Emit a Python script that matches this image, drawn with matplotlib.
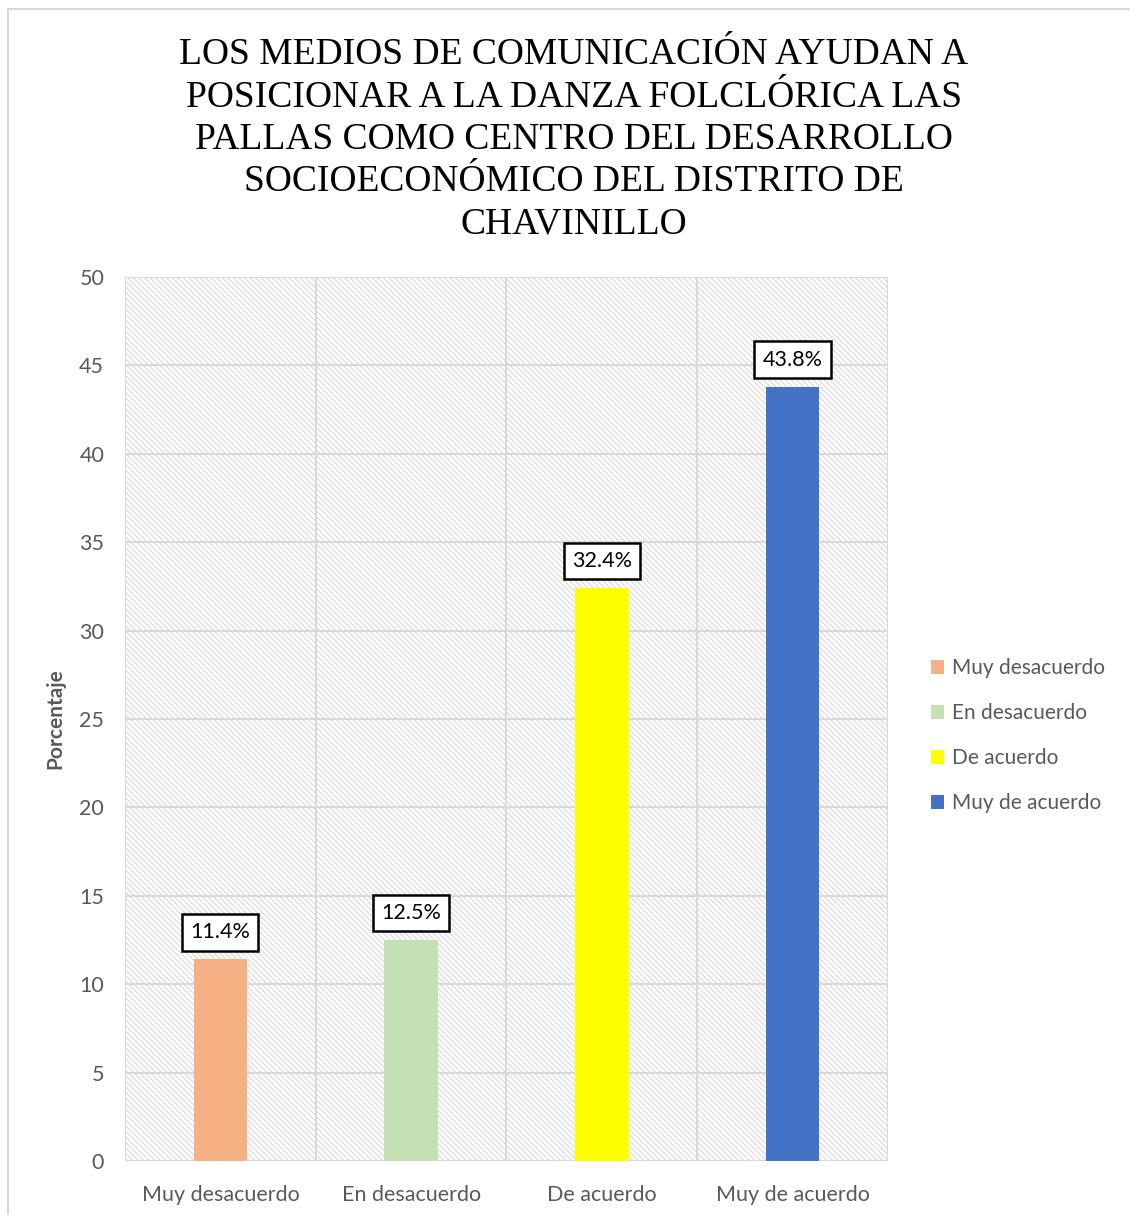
import matplotlib.pyplot as plt
from matplotlib.patches import Patch, Rectangle

categorias = ["Muy desacuerdo", "En desacuerdo", "De acuerdo", "Muy de acuerdo"]
porcentajes = [11.4, 12.5, 32.4, 43.8]
colores = ["#F4B183", "#C5E0B4", "#FFFF00", "#4472C4"]
yticks = [0, 5, 10, 15, 20, 25, 30, 35, 40, 45, 50]
titulo = ("LOS MEDIOS DE COMUNICACIÓN AYUDAN A\n"
          "POSICIONAR A LA DANZA FOLCLÓRICA LAS\n"
          "PALLAS COMO CENTRO DEL DESARROLLO\n"
          "SOCIOECONÓMICO DEL DISTRITO DE\n"
          "CHAVINILLO")

gris = "#595959"
grid_c = "#d9d9d9"
plt.rcParams["font.family"] = ["Lato", "DejaVu Sans"]
plt.rcParams["hatch.linewidth"] = 0.9
plt.rcParams["hatch.color"] = "#dcdcdc"

fig = plt.figure(figsize=(11.3, 12.15), dpi=100)
# marco exterior
fig.patches.append(Rectangle((8 / 1130, -0.01), 1.0, 1 - 9 / 1215 + 0.01,
                             transform=fig.transFigure, fill=False,
                             edgecolor=grid_c, linewidth=1.5))

ax = fig.add_axes([125 / 1130, 1 - 1161 / 1215, 763 / 1130, 884 / 1215])
x = list(range(len(categorias)))

# fondo rayado
ax.add_patch(Rectangle((-0.5, 0), 4, 50, facecolor="white", edgecolor="#dcdcdc",
                       hatch="\\\\\\\\\\\\", linewidth=0, zorder=0))

for yv in yticks:
    ax.axhline(yv, color=grid_c, linewidth=1.5, zorder=1)
for xv in [-0.5, 0.5, 1.5, 2.5, 3.5]:
    ax.axvline(xv, color=grid_c, linewidth=1.5, zorder=1)

ax.bar(x, porcentajes, width=0.28, color=colores, zorder=2)

for xi, v in zip(x, porcentajes):
    ax.annotate(f"{v}%", (xi, v), xytext=(0, 19.5), textcoords="offset points",
                ha="center", va="center", fontsize=15.5, color="black",
                bbox=dict(boxstyle="square,pad=0.38", facecolor="white",
                          edgecolor="black", linewidth=1.8), zorder=3)

ax.set_xlim(-0.5, 3.5)
ax.set_ylim(0, 50)
ax.set_yticks(yticks)
ax.set_xticks(x)
ax.set_xticklabels(categorias)
ax.tick_params(axis="both", length=0, colors=gris, labelsize=15.5)
ax.tick_params(axis="x", pad=17)
ax.tick_params(axis="y", pad=15)
for s in ax.spines.values():
    s.set_visible(False)
ax.set_facecolor("white")
ax.set_ylabel("Porcentaje", fontsize=15, fontweight="bold", color=gris, labelpad=10)

fig.text(574 / 1130, 1 - 38 / 1215, titulo, ha="center", va="top",
         fontsize=27, family="Liberation Serif", color="black", linespacing=1.29)

handles = [Patch(facecolor=c, edgecolor="none") for c in colores]
fig.legend(handles, categorias, loc="center left",
           bbox_to_anchor=(912 / 1130, 1 - 736 / 1215), frameon=False,
           fontsize=15, labelcolor=gris, handlelength=0.65, handleheight=0.65,
           handletextpad=0.35, labelspacing=1.2)

fig.savefig("out.png", dpi=100)
